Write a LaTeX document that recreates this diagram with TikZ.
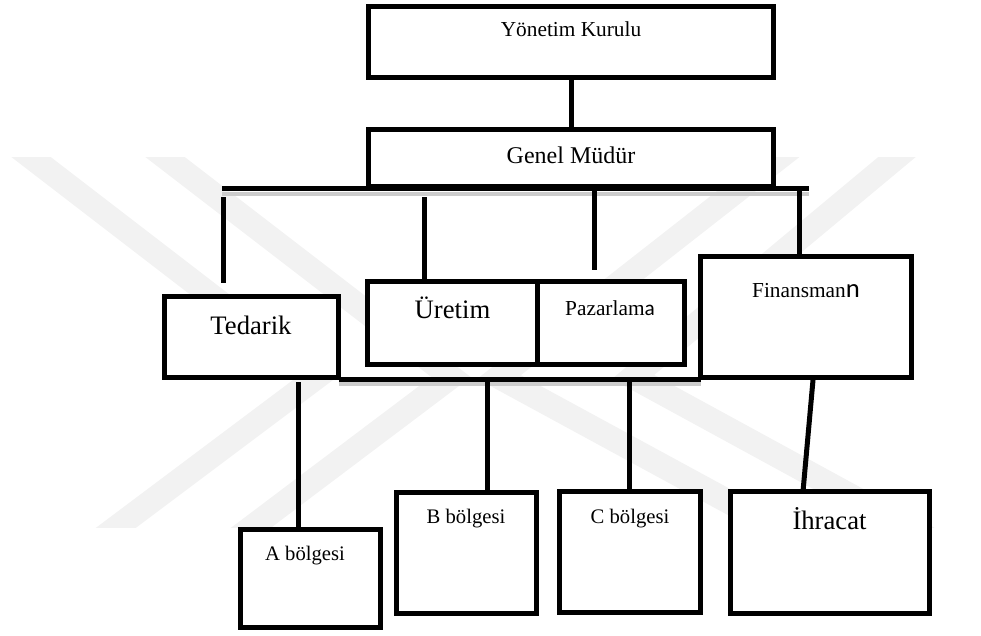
\documentclass[tikz,border=0pt]{standalone}
\usepackage{fontspec}
\setmainfont{Liberation Serif}
\newfontfamily\calibri{Carlito}
\usetikzlibrary{calc}

\begin{document}
\begin{tikzpicture}[x=0.75pt, y=-0.75pt,
    orgBox/.style 2 args = {draw, fill=white, line width=3.75pt, inner sep=0pt,
      outer sep=0pt, minimum width=#1*0.75pt, minimum height=#2*0.75pt},
    orgLine/.style = {line width=3.75pt},
    orgShadow/.style = {line width=3pt, draw=black!20},
    orgText/.style = {inner sep=0pt, anchor=base},
    wmBand/.style = {line width=18pt, draw=black!5, line join=miter},
    ]
    \useasboundingbox (0,0) rectangle (981,635);
    \begin{scope}
      \clip (0,157) rectangle (981,527);
      \foreach \t/\v/\b in {31/317/117, 165/451/252, 897/633/908, 780/499/775}
        \draw[wmBand] ($(\v,377)!1.3!(\t,157)$) -- (\v,377) -- ($(\v,377)!1.3!(\b,527)$);
    \end{scope}

    \node[orgBox={405}{71}] (yk) at (571,42) {};
    \node[orgBox={405}{57}] (gm) at (571,158) {};
    \node[orgBox={174}{81}] (tedarik) at (251.5,337) {};
    \node[orgBox={169.5}{83}] (uretim) at (452.25,323) {};
    \node[orgBox={147.5}{83}] (pazarlama) at (610.75,323) {};
    \node[orgBox={211}{121}] (finansman) at (806,317) {};
    \node[orgBox={140}{98}] (abolge) at (310.5,578.5) {};
    \node[orgBox={140}{121}] (bbolge) at (466.5,553) {};
    \node[orgBox={140.5}{121}] (cbolge) at (629.75,552) {};
    \node[orgBox={199}{122}] (ihracat) at (830,552.5) {};

    \draw[orgLine] (yk.south) -- (gm.north);

    \coordinate (ustBarL) at (222,188.5);
    \coordinate (ustBarR) at (809,188.5);
    \draw[orgShadow] ($(ustBarL)+(0,5.5)$) -- ($(ustBarR)+(0,5.5)$);
    \draw[orgLine] (ustBarL) -- (ustBarR);

    \coordinate (tedarikUst) at (223,197);
    \coordinate (tedarikUc) at (223,283);
    \draw[orgLine] (tedarikUst) -- (tedarikUc);
    \coordinate (uretimUst) at (424,197);
    \draw[orgLine] (uretimUst) -- (uretimUst |- uretim.north);
    \coordinate (pazarlamaUc) at (594,270);
    \draw[orgLine] (pazarlamaUc |- ustBarL) -- (pazarlamaUc);
    \coordinate (finansmanUst) at (799,188.5);
    \draw[orgLine] (finansmanUst) -- (finansmanUst |- finansman.north);

    \draw[orgShadow] ($(tedarik.south east)+(0,6)$) -- ($(finansman.south west)+(0,6)$);
    \draw[orgLine] ($(tedarik.south east)+(0,1.5)$) -- ($(finansman.south west)+(0,1.5)$);

    \coordinate (aUst) at (298,382);
    \draw[orgLine] (aUst) -- (aUst |- abolge.north);
    \coordinate (bUst) at (487,382);
    \draw[orgLine] (bUst) -- (bUst |- bbolge.north);
    \coordinate (cUst) at (629,382);
    \draw[orgLine] (cUst) -- (cUst |- cbolge.north);
    \coordinate (ihracatUst) at (813,380);
    \coordinate (ihracatAlt) at (803,491.5);
    \draw[orgLine] (ihracatUst) -- (ihracatAlt);

    \node[orgText, font=\fontsize{16}{19}\selectfont] (ykYazi) at (571,37) {Yönetim Kurulu};
    \node[orgText, font=\fontsize{18}{22}\selectfont] (gmYazi) at (571,163) {Genel Müdür};
    \node[orgText, font=\fontsize{20}{24}\selectfont] (tedarikYazi) at (251,334) {Tedarik};
    \node[orgText, font=\fontsize{20}{24}\selectfont] (uretimYazi) at (452.5,318) {Üretim};
    \node[orgText, font=\fontsize{16}{19}\selectfont] (pazarlamaYazi) at (610,315) {Pazarlam{\calibri a}};
    \node[orgText, font=\fontsize{16}{19}\selectfont] (finansmanYazi) at (806,297)
      {Finansman{\calibri\fontsize{20}{24}\selectfont n}};
    \node[orgText, font=\fontsize{15.5}{19}\selectfont] (abolgeYazi) at (305,560) {A bölgesi};
    \node[orgText, font=\fontsize{15.5}{19}\selectfont] (bbolgeYazi) at (466,523) {B bölgesi};
    \node[orgText, font=\fontsize{15.5}{19}\selectfont] (cbolgeYazi) at (630,523) {C bölgesi};
    \node[orgText, font=\fontsize{20}{24}\selectfont] (ihracatYazi) at (829.5,529) {İhracat};
\end{tikzpicture}
\end{document}
